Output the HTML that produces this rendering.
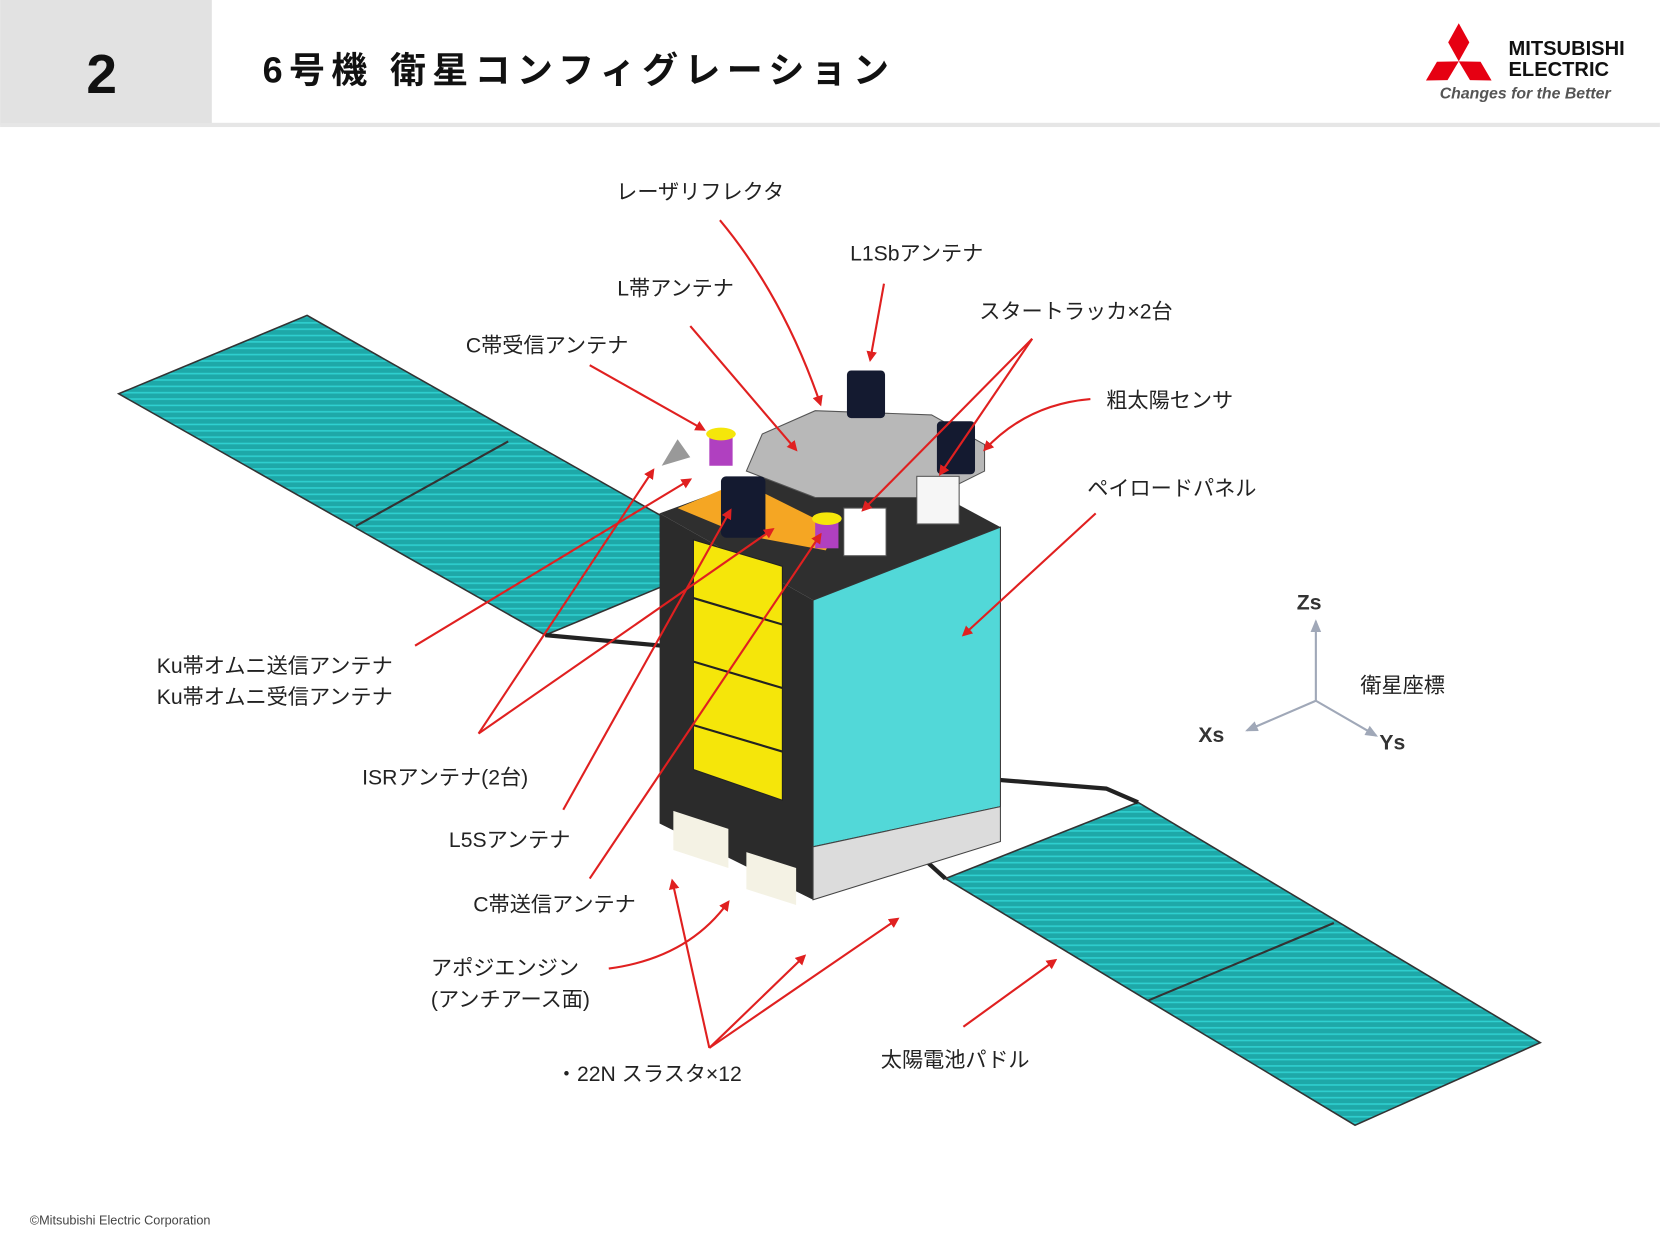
<!DOCTYPE html>
<html><head><meta charset="utf-8"><style>
html,body{margin:0;padding:0;background:#fff;}
svg{display:block;}
text{font-family:"Liberation Sans","Noto Sans CJK JP",sans-serif;}
</style></head><body>
<svg width="1660" height="1248" viewBox="0 0 1568 1179" xmlns="http://www.w3.org/2000/svg">
<defs>
<marker id="a" markerWidth="10" markerHeight="10" refX="8" refY="5" orient="auto" markerUnits="userSpaceOnUse"><path d="M0,0 L10,5 L0,10 z" fill="#e02020"/></marker>
<marker id="g" markerWidth="12" markerHeight="12" refX="10" refY="6" orient="auto" markerUnits="userSpaceOnUse"><path d="M0,1 L12,6 L0,11 z" fill="#a0a8b8"/></marker>
<pattern id="sp" width="8" height="6" patternUnits="userSpaceOnUse"><rect width="8" height="6" fill="#1ea8a8"/><path d="M0,5 H8" stroke="#2fd0d0" stroke-width="1.5"/></pattern>
</defs>
<!-- header -->
<rect x="0" y="0" width="200" height="118" fill="#e2e2e2"/>
<rect x="0" y="116" width="1568" height="4" fill="#e6e6e6"/>
<text x="96" y="88" font-size="52" font-weight="bold" text-anchor="middle" fill="#111">2</text>
<text x="248" y="78" font-size="34" font-weight="bold" fill="#111" letter-spacing="6">6号機 衛星コンフィグレーション</text>
<g fill="#e60012">
<polygon points="1378,58 1388,40 1378,22 1368,40"/>
<polygon points="1378,58 1388.6,75.7 1409,76 1398.6,58.3"/>
<polygon points="1378,58 1367.4,75.7 1347,76 1357.4,58.3"/>
</g>
<text x="1425" y="52" font-size="19" font-weight="bold" fill="#111">MITSUBISHI</text>
<text x="1425" y="72" font-size="19" font-weight="bold" fill="#111">ELECTRIC</text>
<text x="1360" y="93" font-size="15" font-style="italic" font-weight="bold" fill="#555">Changes for the Better</text>

<!-- left solar panel -->
<polygon points="112,372 290,298 693,526 515,600" fill="url(#sp)" stroke="#333" stroke-width="1.5"/>
<line x1="336" y1="497" x2="480" y2="417" stroke="#333" stroke-width="2"/>
<line x1="515" y1="600" x2="625" y2="610" stroke="#222" stroke-width="4"/>
<!-- right solar panel -->
<polygon points="893,830 1075,758 1455,985 1280,1063" fill="url(#sp)" stroke="#333" stroke-width="1.5"/>
<line x1="1085" y1="945" x2="1260" y2="872" stroke="#333" stroke-width="2"/>
<polyline points="850,715 860,800 893,830" fill="none" stroke="#222" stroke-width="4"/>
<polyline points="860,730 1045,745 1075,758" fill="none" stroke="#222" stroke-width="4"/>

<!-- body -->
<polygon points="623,485 800,420 945,498 768,567" fill="#2f2f2f"/>
<polygon points="623,485 768,567 768,850 623,778" fill="#2b2b2b"/>
<polygon points="655,510 739,535 739,756 655,727" fill="#f5e60a" stroke="#222"/>
<line x1="655" y1="565" x2="739" y2="590" stroke="#222" stroke-width="2"/>
<line x1="655" y1="625" x2="739" y2="650" stroke="#222" stroke-width="2"/>
<line x1="655" y1="685" x2="739" y2="710" stroke="#222" stroke-width="2"/>
<polygon points="636,766 688,783 688,820 636,803" fill="#f4f2e4"/>
<polygon points="705,805 752,820 752,855 705,840" fill="#f4f2e4"/>
<polygon points="768,567 945,498 945,762 768,800" fill="#52d8d8" stroke="#333"/>
<polygon points="768,800 945,762 945,795 768,850" fill="#dcdcdc" stroke="#444"/>
<!-- deck -->
<polygon points="640,480 700,455 790,500 780,520 700,505" fill="#f5a623"/>
<polygon points="720,410 770,388 880,392 930,420 930,445 880,470 770,470 705,445" fill="#b8b8b8" stroke="#555"/>
<!-- antennas -->
<rect x="800" y="350" width="36" height="45" rx="4" fill="#141a30"/>
<rect x="885" y="398" width="36" height="50" rx="4" fill="#141a30"/>
<rect x="681" y="450" width="42" height="58" rx="5" fill="#141a30"/>
<rect x="670" y="412" width="22" height="28" fill="#b040c0"/>
<ellipse cx="681" cy="410" rx="14" ry="6" fill="#f5e60a"/>
<rect x="770" y="492" width="22" height="26" fill="#b040c0"/>
<ellipse cx="781" cy="490" rx="14" ry="6" fill="#f5e60a"/>
<rect x="797" y="480" width="40" height="45" fill="#fff" stroke="#555"/>
<rect x="866" y="450" width="40" height="45" fill="#f6f6f6" stroke="#555"/>
<polygon points="625,440 640,415 652,432" fill="#999"/>

<!-- arrows -->
<g stroke="#e02020" stroke-width="2" fill="none" marker-end="url(#a)">
<path d="M680,208 Q740,280 775,382"/>
<path d="M835,268 L822,340"/>
<path d="M652,308 L752,425"/>
<path d="M557,345 L665,406"/>
<path d="M975,320 L888,448"/>
<path d="M975,320 L815,482"/>
<path d="M1030,377 Q970,382 930,425"/>
<path d="M1035,485 L910,600"/>
<path d="M392,610 L652,453"/>
<path d="M452,693 L617,444"/>
<path d="M452,693 L730,500"/>
<path d="M532,765 L690,482"/>
<path d="M557,830 L775,505"/>
<path d="M575,915 Q650,905 688,852"/>
<path d="M670,990 L635,832"/>
<path d="M670,990 L760,903"/>
<path d="M670,990 L848,868"/>
<path d="M910,970 L997,907"/>
</g>

<!-- labels -->
<g font-size="20" fill="#222">
<text x="582" y="188">レーザリフレクタ</text>
<text x="803" y="246">L1Sbアンテナ</text>
<text x="583" y="279">L帯アンテナ</text>
<text x="925" y="301">スタートラッカ×2台</text>
<text x="440" y="333">C帯受信アンテナ</text>
<text x="1045" y="385">粗太陽センサ</text>
<text x="1027" y="468">ペイロードパネル</text>
<text x="148" y="636">Ku帯オムニ送信アンテナ</text>
<text x="148" y="665">Ku帯オムニ受信アンテナ</text>
<text x="342" y="741">ISRアンテナ(2台)</text>
<text x="424" y="800">L5Sアンテナ</text>
<text x="447" y="861">C帯送信アンテナ</text>
<text x="407" y="921">アポジエンジン</text>
<text x="407" y="951">(アンチアース面)</text>
<text x="525" y="1021">・22N スラスタ×12</text>
<text x="832" y="1008">太陽電池パドル</text>
<text x="1285" y="654">衛星座標</text>
</g>
<g stroke="#a0a8b8" stroke-width="2" fill="none">
<line x1="1243" y1="662" x2="1243" y2="587" marker-end="url(#g)"/>
<line x1="1243" y1="662" x2="1178" y2="690" marker-end="url(#g)"/>
<line x1="1243" y1="662" x2="1300" y2="695" marker-end="url(#g)"/>
</g>
<g font-size="20" font-weight="bold" fill="#333">
<text x="1225" y="576">Zs</text>
<text x="1132" y="701">Xs</text>
<text x="1303" y="708">Ys</text>
</g>
<text x="28" y="1157" font-size="12" fill="#444">©Mitsubishi Electric Corporation</text>
</svg>
</body></html>
